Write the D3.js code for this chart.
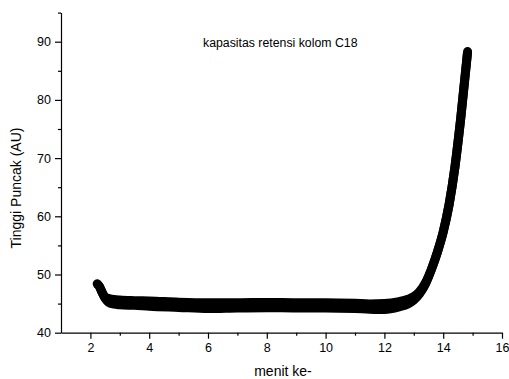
<!DOCTYPE html>
<html>
<head>
<meta charset="utf-8">
<script src="https://cdn.jsdelivr.net/npm/d3@7"></script>
<style>
  body { margin: 0; background: #fff; }
  svg { display: block; font-family: "Liberation Sans", Arial, sans-serif; }
</style>
</head>
<body>
<div class="chart"></div>
<script>
// menit ke- (x) and tinggi puncak (y)
const minutes = [2.23, 2.3, 2.4, 2.5, 2.6, 2.8, 3, 3.5, 4, 5, 6, 7, 8, 9, 10, 11, 11.5, 12, 12.5, 12.8, 13, 13.2, 13.4, 13.6, 13.8, 14, 14.2, 14.4, 14.6, 14.83];
const heights = [48.4, 48.0, 46.9, 46.0, 45.6, 45.3, 45.2, 45.1, 45.0, 44.8, 44.65, 44.7, 44.75, 44.7, 44.7, 44.6, 44.5, 44.5, 44.9, 45.35, 45.9, 46.9, 48.5, 50.9, 53.8, 57.3, 62.0, 68.5, 77.0, 88.3];
// noise half-width around the trace (AU)
const spread = [0, 0, 0, 0.1, 0.3, 0.4, 0.4, 0.4, 0.45, 0.45, 0.5, 0.45, 0.45, 0.45, 0.45, 0.45, 0.45, 0.5, 0.45, 0.4, 0.3, 0.2, 0.1, 0, 0, 0, 0, 0, 0, 0];

const xTicks = [2, 4, 6, 8, 10, 12, 14, 16];
const yTicks = [40, 50, 60, 70, 80, 90];
const title = "kapasitas retensi kolom C18";
const xLabel = "menit ke-";
const yLabel = "Tinggi Puncak (AU)";

const width = 509, height = 379;
const dim = { left: 61, right: 502, top: 12.6, bottom: 332.7 };

const data = minutes.map((m, i) => ({ x: m, y: heights[i], s: spread[i] }));

const x = d3.scaleLinear().domain([1, 16]).range([dim.left, dim.right]);
const y = d3.scaleLinear().domain([40, 95]).range([dim.bottom, dim.top]);

const svg = d3.select(".chart").append("svg")
  .attr("width", width)
  .attr("height", height);

// trace: noisy band + thick line
const band = d3.area()
  .x(d => x(d.x))
  .y0(d => y(d.y - d.s))
  .y1(d => y(d.y + d.s))
  .curve(d3.curveMonotoneX);

svg.append("path")
  .datum(data)
  .attr("d", band)
  .attr("fill", "#000")
  .attr("stroke", "#000")
  .attr("stroke-width", 9)
  .attr("stroke-linejoin", "round");

const line = d3.line()
  .x(d => x(d.x))
  .y(d => y(d.y))
  .curve(d3.curveMonotoneX);

svg.append("path")
  .datum(data)
  .attr("d", line)
  .attr("fill", "none")
  .attr("stroke", "#000")
  .attr("stroke-width", 9)
  .attr("stroke-linejoin", "round");

// axes
const xAxis = svg.append("g")
  .attr("transform", `translate(0,${dim.bottom})`)
  .call(d3.axisBottom(x).tickValues(xTicks).tickSize(6).tickSizeOuter(0).tickPadding(4));
xAxis.append("g")
  .call(d3.axisBottom(x).tickValues(d3.range(3, 16, 2)).tickSize(3).tickFormat(""));

const yAxis = svg.append("g")
  .attr("transform", `translate(${dim.left},0)`)
  .call(d3.axisLeft(y).tickValues(yTicks).tickSize(6).tickSizeOuter(0).tickPadding(4));
yAxis.append("g")
  .call(d3.axisLeft(y).tickValues(d3.range(45, 96, 10)).tickSize(3).tickFormat(""));

svg.selectAll(".domain").attr("stroke", "#000").attr("stroke-width", 1.2);
svg.selectAll(".tick line").attr("stroke", "#000").attr("stroke-width", 1.2);
svg.selectAll(".tick text")
  .attr("font-size", 12.5)
  .attr("font-family", "Liberation Sans, Arial, sans-serif")
  .attr("fill", "#000");
yAxis.selectAll("g > g > .domain").remove();
xAxis.selectAll("g > g > .domain").remove();

// texts
svg.append("text")
  .attr("x", 203)
  .attr("y", 47)
  .attr("font-size", 12.3)
  .attr("fill", "#000")
  .text(title);

svg.append("text")
  .attr("x", 283)
  .attr("y", 376)
  .attr("text-anchor", "middle")
  .attr("font-size", 14)
  .attr("fill", "#000")
  .text(xLabel);

svg.append("text")
  .attr("transform", `translate(21,188) rotate(-90)`)
  .attr("text-anchor", "middle")
  .attr("font-size", 14)
  .attr("fill", "#000")
  .text(yLabel);
</script>
</body>
</html>
